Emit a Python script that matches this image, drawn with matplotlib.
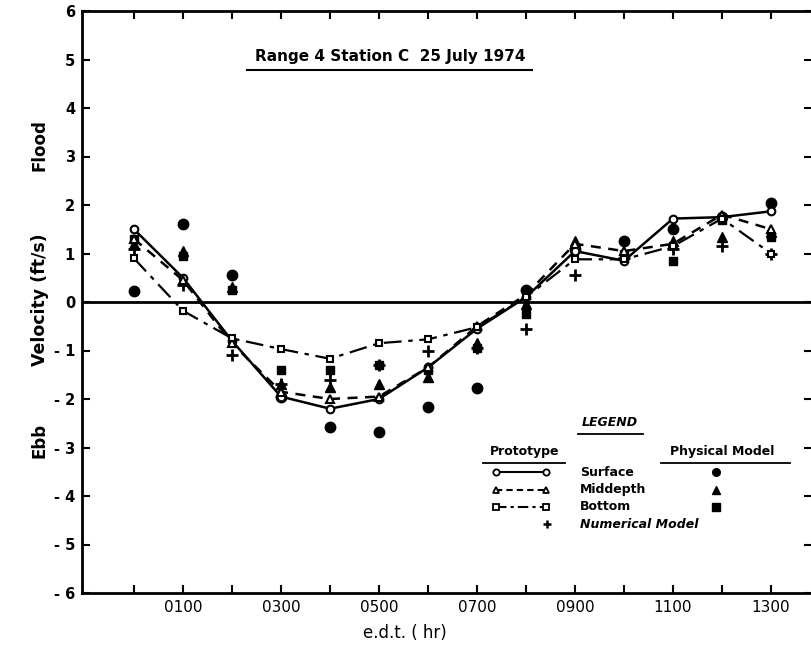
import matplotlib
matplotlib.use("Agg")
import matplotlib.pyplot as plt
from matplotlib.lines import Line2D

# ---- data ----
hours = [0, 1, 2, 3, 4, 5, 6, 7, 8, 9, 10, 11, 12, 13]
proto_surface = [1.5, 0.5, -0.8, -1.95, -2.2, -2.0, -1.35, -0.55, 0.1, 1.05, 0.85, 1.72, 1.75, 1.87]
proto_middepth = [1.3, 0.45, -0.85, -1.85, -2.0, -1.95, -1.35, -0.5, 0.15, 1.2, 1.05, 1.2, 1.8, 1.5]
proto_bottom = [0.9, -0.18, -0.75, -0.97, -1.17, -0.85, -0.77, -0.52, 0.1, 0.88, 0.88, 1.15, 1.72, 1.0]
numerical = [1.1, 0.35, -1.1, -1.7, -1.6, -1.3, -1.0, -0.95, -0.55, 0.55, 0.9, 1.1, 1.15, 1.0]
phys_surface = [0.23, 1.6, 0.55, -1.95, -2.58, -2.68, -2.17, -1.77, 0.25, 1.1, 1.25, 1.5, 1.75, 2.05]
phys_middepth = [1.2, 1.05, 0.3, -1.7, -1.75, -1.7, -1.55, -0.85, -0.05, 1.25, 1.0, 1.25, 1.35, 1.45]
phys_bottom = [1.3, 0.95, 0.25, -1.4, -1.4, -1.3, -1.4, -0.95, -0.25, 1.1, 1.0, 0.85, 1.7, 1.35]

xtick_labels = ["", "0100", "", "0300", "", "0500", "", "0700", "", "0900", "", "1100", "", "1300"]
yticks = list(range(-6, 7))
ytick_labels = ["- 6", "- 5", "- 4", "- 3", "- 2", "- 1", "0", "1", "2", "3", "4", "5", "6"]
title_text = "Range 4 Station C  25 July 1974"

W, H = 812, 651
fig = plt.figure(figsize=(W / 100, H / 100), dpi=100)

def fx(px):
    return px / W

def fy(py):
    return 1 - py / H

ax = fig.add_axes([fx(82), fy(593), fx(812) - fx(82), fy(11) - fy(593)])
ax.set_xlim(-1.06, (812 - 134) / 49)
ax.set_ylim(-6, 6)

for s in ["left", "bottom", "top"]:
    ax.spines[s].set_linewidth(2)
ax.spines["right"].set_visible(False)

ax.set_xticks(hours)
ax.set_xticklabels(xtick_labels, fontsize=11)
ax.set_yticks(yticks)
ax.set_yticklabels(ytick_labels, fontsize=10.5, fontweight="bold")
ax.tick_params(axis="both", direction="in", length=6, width=1.5,
               top=True, right=True, pad=5)

ax.axhline(0, color="black", lw=2)

ax.plot(hours, proto_surface, "-", color="black", lw=1.8, marker="o", ms=5.5,
        mfc="white", mec="black", mew=1.5, zorder=4)
ax.plot(hours, proto_middepth, "--", color="black", lw=1.8, marker="^", ms=5.5,
        mfc="white", mec="black", mew=1.5, zorder=4, dashes=(4, 3))
ax.plot(hours, proto_bottom, "-.", color="black", lw=1.6, marker="s", ms=5,
        mfc="white", mec="black", mew=1.5, zorder=4, dashes=(8, 3, 2, 3))
ax.plot(hours, phys_surface, "o", color="black", ms=7.5, ls="none", zorder=3)
ax.plot(hours, phys_middepth, "^", color="black", ms=7, ls="none", zorder=3)
ax.plot(hours, phys_bottom, "s", color="black", ms=6, ls="none", zorder=3)
ax.plot(hours, numerical, "+", color="black", ms=8, mew=2, ls="none", zorder=3)

# title
fig.text(fx(390), fy(57), title_text, ha="center", va="center",
         fontsize=11, fontweight="bold")
fig.add_artist(Line2D([fx(247), fx(532)], [fy(70), fy(70)], color="black", lw=1.5))

# axis labels
fig.text(fx(405), fy(633), "e.d.t. ( hr)", ha="center", va="center", fontsize=12)
fig.text(fx(40), fy(300), "Velocity (ft/s)", ha="center", va="center",
         rotation=90, fontsize=12.5, fontweight="bold")
fig.text(fx(40), fy(145), "Flood", ha="center", va="center",
         rotation=90, fontsize=12, fontweight="bold")
fig.text(fx(40), fy(440), "Ebb", ha="center", va="center",
         rotation=90, fontsize=12, fontweight="bold")

# legend (drawn manually)
fig.text(fx(610), fy(423), "LEGEND", ha="center", va="center", fontsize=9,
         fontweight="bold", style="italic")
fig.add_artist(Line2D([fx(578), fx(643)], [fy(434), fy(434)], color="black", lw=1.3))
fig.text(fx(525), fy(452), "Prototype", ha="center", va="center", fontsize=9,
         fontweight="bold")
fig.add_artist(Line2D([fx(483), fx(565)], [fy(463), fy(463)], color="black", lw=1.3))
fig.text(fx(722), fy(452), "Physical Model", ha="center", va="center", fontsize=9,
         fontweight="bold")
fig.add_artist(Line2D([fx(661), fx(790)], [fy(463), fy(463)], color="black", lw=1.3))

rows = [("Surface", 472, "-", "o", None),
        ("Middepth", 490, "--", "^", (3, 2)),
        ("Bottom", 507, "-.", "s", (5, 2, 1.5, 2))]
phys_markers = ["o", "^", "s"]
for (label, py, ls, mk, dsh), pm in zip(rows, phys_markers):
    kw = dict(color="black", lw=1.5, ls=ls, marker=mk, ms=4.5, mfc="white",
              mec="black", mew=1.3, transform=fig.transFigure)
    if dsh is not None:
        kw["dashes"] = dsh
    fig.add_artist(Line2D([fx(496), fx(546)], [fy(py), fy(py)], **kw))
    fig.text(fx(580), fy(py), label, ha="left", va="center", fontsize=9,
             fontweight="bold")
    fig.add_artist(Line2D([fx(716)], [fy(py)], marker=pm, ms=5.5, color="black",
                          ls="none", transform=fig.transFigure))
fig.add_artist(Line2D([fx(547)], [fy(524)], marker="+", ms=6, mew=1.8,
                      color="black", ls="none", transform=fig.transFigure))
fig.text(fx(580), fy(524), "Numerical Model", ha="left", va="center", fontsize=9,
         fontweight="bold", style="italic")

fig.savefig("out.png", dpi=100)
